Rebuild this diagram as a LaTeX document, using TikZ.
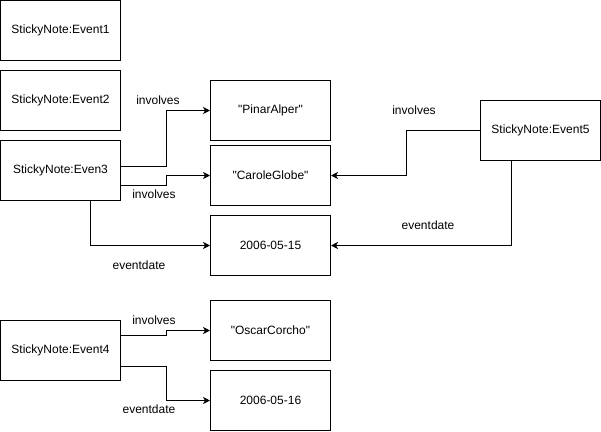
\documentclass[tikz,border=0pt]{standalone}
\usepackage{fontspec}
\setmainfont{Liberation Sans}[Ligatures=TeXOff]
\usetikzlibrary{calc, arrows.meta}
\tikzset{
    note/.style={rectangle, draw, line width=1pt, minimum width=120pt,
    	minimum height=60pt, inner sep=0pt, font=\fontsize{12}{14}\selectfont},
    lbl/.style={inner sep=0pt, font=\fontsize{12}{14}\selectfont},
    rel/.style={line width=1pt, -{Stealth[length=7pt, width=7pt, inset=2pt]}}
}

\begin{document}
\begin{tikzpicture}[x=1pt, y=-1pt]
	\useasboundingbox (0,0) rectangle (601,431);
	\node (e1) [note] at (60.5, 30.5) {StickyNote:Event1};
	\node (e2) [note] at (60.5, 100.5) {StickyNote:Event2};
	\node (e3) [note] at (60.5, 170.5) {StickyNote:Even3};
	\node (e4) [note] at (60.5, 350.5) {StickyNote:Event4};
	\node (e5) [note] at (540.5, 130.5) {StickyNote:Event5};
	\node (pinar) [note] at (270.5, 110.5) {"PinarAlper"};
	\node (carole) [note] at (270.5, 175.5) {"CaroleGlobe"};
	\node (d15) [note] at (270.5, 245.5) {2006-05-15};
	\node (oscar) [note] at (270.5, 330.5) {"OscarCorcho"};
	\node (d16) [note] at (270.5, 400.5) {2006-05-16};
	
	\draw [rel] ($(e3.east)+(0,-4)$) -- ++(45,0) |- (pinar.west);
	\draw [rel] ($(e3.east)+(0,15)$) -- ++(45,0) |- (carole.west);
	\draw [rel] ($(e3.south)+(30,0)$) |- (d15.west);
	\draw [rel] (e5.west) -- ++(-74,0) |- (carole.east);
	\draw [rel] ($(e5.south)+(-29,0)$) |- (d15.east);
	\draw [rel] ($(e4.east)+(0,-15)$) -- ++(45,0) |- (oscar.west);
	\draw [rel] ($(e4.east)+(0,16)$) -- ++(45,0) |- (d16.west);
	
	\node (l1) [lbl] at (158, 100) {involves};
	\node (l2) [lbl] at (154, 194) {involves};
	\node (l3) [lbl] at (139, 265) {eventdate};
	\node (l4) [lbl] at (414, 110) {involves};
	\node (l5) [lbl] at (428, 225) {eventdate};
	\node (l6) [lbl] at (154, 320) {involves};
	\node (l7) [lbl] at (149, 409) {eventdate};
\end{tikzpicture}
\end{document}
